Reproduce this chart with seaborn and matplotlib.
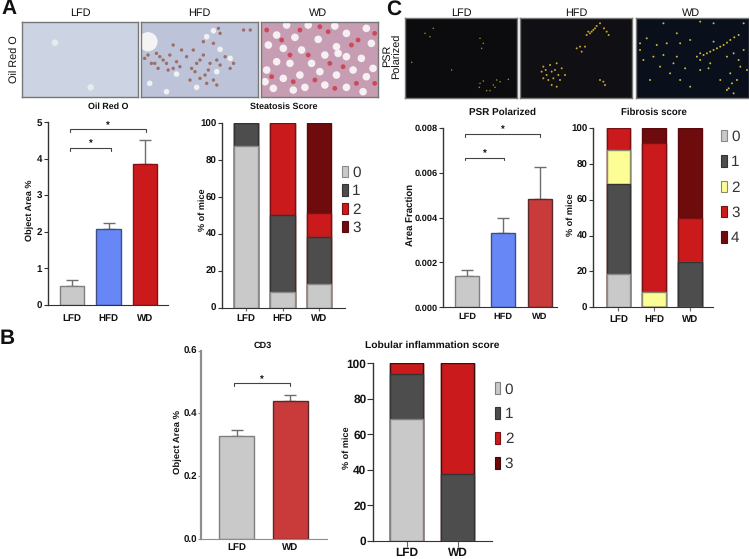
import pandas as pd
import matplotlib
matplotlib.use("Agg")
import matplotlib.pyplot as plt
from matplotlib.patches import Patch
import seaborn as sns

# colours
GREY = "#c9c9c9"
DARK = "#4d4d4d"
YELLOW = "#fdfd96"
RED = "#cb1a1c"
MAROON = "#6e0b0d"
BLUE = "#6687f5"
BRICK = "#c93a3a"

# bar charts
three_groups = ["LFD", "HFD", "WD"]
two_groups = ["LFD", "WD"]
oil_mean = [0.52, 2.09, 3.85]
oil_top = [0.68, 2.24, 4.52]
psr_mean = [0.00138, 0.0033, 0.00485]
psr_top = [0.00166, 0.00398, 0.00628]
cd3_mean = [0.327, 0.44]
cd3_top = [0.347, 0.46]

# stacked scores, one list per score, in group order
steatosis = {"0": [87.5, 8.3, 12.5], "1": [12.5, 41.7, 25.5],
             "2": [0, 50, 13], "3": [0, 0, 49]}
fibrosis = {"0": [18.75, 0, 0], "1": [50, 0, 25], "2": [18.75, 8.3, 0],
            "3": [12.5, 83.4, 25], "4": [0, 8.3, 50]}
lobular = {"0": [68.75, 0], "1": [25, 37.5], "2": [6.25, 62.5], "3": [0, 0]}

# micrograph details (x, y in zoomed crop pixels)
lfd_holes = [(165, 128), (272, 262)]
hfd_holes = [(660, 148), (640, 92), (530, 222), (590, 262), (500, 275),
             (620, 110), (690, 175), (650, 215), (450, 250)]
hfd_brown = [(470, 160), (490, 180), (510, 165), (530, 185), (455, 190), (475, 205),
             (505, 210), (560, 170), (590, 190), (610, 165), (625, 210), (600, 235),
             (640, 240), (660, 195), (690, 205), (545, 150), (660, 100), (730, 90),
             (520, 135), (585, 215), (650, 255), (435, 175), (750, 90), (570, 240),
             (480, 170), (500, 190), (520, 205), (465, 190), (445, 165), (540, 200),
             (575, 205), (600, 180), (615, 225), (630, 190), (650, 180), (675, 170),
             (700, 190), (640, 130), (610, 125), (655, 85), (580, 150), (620, 250)]
wd_holes = [(860, 75), (925, 75), (1005, 78), (830, 105), (885, 112), (955, 118),
            (1040, 100), (1100, 85), (805, 135), (850, 145), (905, 150), (1010, 140),
            (1085, 175), (830, 185), (870, 190), (935, 190), (975, 165), (1040, 170),
            (1115, 130), (800, 210), (850, 235), (900, 225), (960, 215), (1010, 225),
            (1060, 210), (1100, 230), (820, 265), (880, 270), (915, 262), (975, 255),
            (1040, 262), (1090, 275), (1120, 205), (1015, 160), (795, 245)]
wd_red = [(800, 90), (845, 120), (900, 90), (985, 95), (1075, 120), (1125, 100),
          (870, 165), (990, 190), (1055, 135), (815, 230), (945, 240), (1005, 265),
          (1070, 250), (880, 245), (1125, 250), (960, 80), (1030, 200), (925, 165)]
psr_lfd = [(135, 100), (160, 85), (150, 110), (300, 115), (310, 130), (305, 145),
           (95, 187), (215, 210), (300, 250), (320, 272), (345, 262), (360, 245),
           (385, 238), (340, 255), (350, 240), (330, 272), (298, 262), (310, 243)]
psr_hfd = [(680, 95), (660, 70), (630, 100), (620, 105), (640, 90), (590, 145),
           (605, 155), (615, 140), (490, 200), (510, 195), (530, 190), (545, 205),
           (500, 225), (520, 235), (540, 240), (485, 215), (515, 255), (530, 260),
           (660, 240), (670, 245), (675, 255), (650, 78), (625, 95), (600, 140),
           (505, 240), (525, 210), (490, 235), (420, 122), (555, 225), (645, 85),
           (635, 95), (672, 85), (686, 105), (515, 215), (535, 225), (497, 210)]
psr_wd = [(950, 170), (970, 165), (990, 155), (1010, 145), (1030, 135), (1050, 120),
          (1075, 105), (960, 180), (990, 190), (985, 205), (960, 210), (780, 130),
          (800, 115), (780, 150), (850, 70), (890, 100), (900, 130), (930, 120),
          (1060, 160), (1075, 180), (1090, 150), (1040, 170), (880, 190), (870, 220),
          (900, 240), (840, 200), (820, 170), (790, 180), (1040, 270), (1060, 280),
          (1020, 240), (1050, 220), (1000, 70), (960, 65), (1090, 70), (1070, 240),
          (930, 260), (810, 240), (1100, 210), (1000, 125), (860, 130), (960, 160),
          (980, 160), (1000, 150), (1020, 140), (1040, 128), (1062, 112), (1080, 200),
          (1045, 265), (1055, 250), (890, 170), (915, 205), (850, 165), (830, 135)]

sns.set_style("ticks")
plt.rcParams["font.family"] = ["Liberation Sans", "DejaVu Sans"]
plt.rcParams["text.hinting"] = "no_hinting"
W, H = 749, 559
fig = plt.figure(figsize=(W / 100, H / 100), dpi=100, facecolor="white")


def place(left, right, top, bottom):
    return fig.add_axes([left / W, 1 - bottom / H, (right - left) / W, (bottom - top) / H])


def label(x, y, s, size=6.6, weight="bold", rotation=0):
    fig.text(x / W, 1 - y / H, s, fontsize=size, fontweight=weight, rotation=rotation,
             ha="center", va="center", color="#111111", linespacing=1.0)


def finish_axis(ax, lim, ticks, tick_fmt, length, size, spine="#333333", spine_w=1.0, xtick=0.0, xpad=3.5):
    ax.set_ylim(*lim)
    ax.set_yticks(ticks)
    ax.set_yticklabels([tick_fmt.format(t) for t in ticks], fontsize=size, fontweight="bold", color="#111111")
    ax.set_xlabel("")
    ax.set_ylabel("")
    ax.spines["top"].set_visible(False)
    ax.spines["right"].set_visible(False)
    ax.spines["left"].set_color(spine)
    ax.spines["left"].set_linewidth(spine_w)
    ax.spines["bottom"].set_color(spine)
    ax.tick_params(axis="y", length=length, width=0.8, color=spine, pad=1)
    ax.tick_params(axis="x", length=xtick, width=0.8, color="#666666", pad=xpad)
    for t in ax.get_xticklabels():
        t.set_fontsize(size)
        t.set_fontweight("bold")
        t.set_color("#111111")


def mean_bars(ax, groups, means, tops, colors, edges, width):
    df = pd.DataFrame({"group": groups, "value": means})
    sns.barplot(data=df, x="group", y="value", hue="group", order=groups, hue_order=groups,
                palette=colors, saturation=1, width=width, legend=False, ax=ax, zorder=2)
    for patch, e in zip(ax.patches, edges):
        patch.set_edgecolor(e)
        patch.set_linewidth(1.0)
    for i, (m, t) in enumerate(zip(means, tops)):
        ax.errorbar([i], [m], yerr=[[0], [t - m]], fmt="none", ecolor="#6e6e6e",
                    elinewidth=1.0, capsize=4.2, capthick=1.0, zorder=1)


def bracket(ax, a, b, y, drop, star_gap):
    ax.plot([a, a, b, b], [y - drop, y, y, y - drop], color="#444444", lw=0.8, clip_on=False, zorder=3)
    ax.text((a + b) / 2, y + star_gap, "*", ha="center", va="center", fontsize=7,
            fontweight="bold", color="#111111", clip_on=False)


def stacked(ax, groups, scores, colors, edges, width):
    names = list(scores)
    total = [0] * len(groups)
    levels = []
    for name in names:
        total = [a + b for a, b in zip(total, scores[name])]
        levels.append(total)
    # tallest first, every lower score is painted over it
    for level, c, e in reversed(list(zip(levels, colors, edges))):
        df = pd.DataFrame({"group": groups, "value": level})
        sns.barplot(data=df, x="group", y="value", order=groups, color=c, saturation=1,
                    width=width, edgecolor=e, linewidth=1.0, ax=ax)


def score_legend(ax, names, colors, edges, x, y, pitch):
    handles = [Patch(facecolor=c, edgecolor=e, linewidth=0.8) for c, e in zip(colors, edges)]
    leg = ax.legend(handles, names, loc="upper left", bbox_to_anchor=(x / W, 1 - y / H),
                    bbox_transform=fig.transFigure, frameon=False, fontsize=11,
                    handlelength=0.36, handleheight=0.78, handletextpad=0.3,
                    borderpad=0, borderaxespad=0, labelspacing=(pitch - 13.2) / 15.3)
    for t in leg.get_texts():
        t.set_color("#333333")


def photo(left, right, top, bottom, x0, x1, y0, y1, bg):
    ax = place(left, right, top, bottom)
    ax.set_facecolor(bg)
    ax.set_xlim(x0, x1)
    ax.set_ylim(y1, y0)
    ax.set_xticks([])
    ax.set_yticks([])
    for s in ax.spines.values():
        s.set_color("#777777")
        s.set_linewidth(1.0)
    return ax


def spots(ax, pts, size, color, alpha=1.0):
    df = pd.DataFrame(pts, columns=["x", "y"])
    sns.scatterplot(data=df, x="x", y="y", s=size, color=color, edgecolor="none", alpha=alpha, ax=ax, legend=False)
    ax.set_xlabel("")
    ax.set_ylabel("")


# Oil Red O micrographs
ax = photo(22.3, 137.7, 21.7, 96.7, 67, 413, 65, 290, "#ccd3e3")
spots(ax, lfd_holes, 22, "#eef0f2", 0.8)
ax = photo(141, 258, 21.7, 96.7, 424, 773, 65, 290, "#bdc4da")
spots(ax, hfd_holes, 16, "#f2f0f0")
spots(ax, [(445, 125)], 190, "#f5f4f4")
spots(ax, hfd_brown, 6, "#9a5f50", 0.85)
ax = photo(260.7, 378, 21.7, 96.7, 782, 1135, 65, 290, "#c79db4")
spots(ax, wd_holes, 30, "#f6f0f2")
spots(ax, wd_red, 12, "#cf3f4c", 0.9)

# PSR micrographs
ax = photo(405, 517, 18.3, 98, 75, 411, 55, 294, "#0c0c0e")
spots(ax, psr_lfd, 1.2, "#a08c28")
ax = photo(520, 632, 18.3, 98, 420, 756, 55, 294, "#101014")
spots(ax, psr_hfd, 2, "#c8a830")
ax = photo(635.7, 749, 18.3, 98, 767, 1106, 55, 294, "#0a0f1c")
spots(ax, psr_wd, 2, "#d0b838")

# Panel A bars
ax = place(47.7, 168, 122, 305)
mean_bars(ax, three_groups, oil_mean, oil_top, [GREY, BLUE, RED], ["#7f7f7f", "#3f4f85", "#8a1015"], 0.66)
ax.set_xlim(-0.666, 2.63)
finish_axis(ax, (0, 5), [0, 1, 2, 3, 4, 5], "{:d}", 3, 7, xpad=6)
bracket(ax, -0.05, 2.02, 4.8, 0.08, 0.1)
bracket(ax, -0.05, 1.06, 4.3, 0.08, 0.1)

# Steatosis
ax = place(222, 345, 123, 307.5)
stacked(ax, three_groups, steatosis, [GREY, DARK, RED, MAROON], ["#8a8a8a", "#333333", "#7a1012", "#5a0a0c"], 0.66)
ax.set_xlim(-0.65, 2.7)
finish_axis(ax, (0, 100), [0, 20, 40, 60, 80, 100], "{:d}", 3, 7, xtick=2, xpad=2.5)
score_legend(ax, list(steatosis), [GREY, DARK, RED, MAROON], ["#8a8a8a", "#333333", "#7a1012", "#5a0a0c"], 342, 166, 17.3)

# PSR bars
ax = place(443.3, 557, 128, 307.3)
mean_bars(ax, three_groups, psr_mean, psr_top, [GREY, BLUE, BRICK], ["#7f7f7f", "#3f4f85", "#5a2a2a"], 0.66)
ax.set_xlim(-0.655, 2.48)
finish_axis(ax, (0, 0.008), [0, 0.002, 0.004, 0.006, 0.008], "{:.3f}", 3, 6.7)
bracket(ax, -0.05, 2.0, 0.00772, 0.00012, 0.0002)
bracket(ax, -0.05, 1.02, 0.00667, 0.00012, 0.0002)

# Fibrosis
ax = place(593, 713, 128, 307.3)
stacked(ax, three_groups, fibrosis, [GREY, DARK, YELLOW, RED, MAROON],
        ["#8a8a8a", "#333333", "#8a8a6a", "#7a1012", "#5a0a0c"], 0.66)
ax.set_xlim(-0.714, 2.647)
finish_axis(ax, (0, 100), [0, 20, 40, 60, 80, 100], "{:d}", 3, 7, xtick=3, xpad=2.5)
score_legend(ax, list(fibrosis), [GREY, DARK, YELLOW, RED, MAROON],
             ["#8a8a8a", "#333333", "#8a8a6a", "#7a1012", "#5a0a0c"], 721, 130, 24.3)

# CD3
ax = place(201, 326.7, 350.7, 539)
mean_bars(ax, two_groups, cd3_mean, cd3_top, [GREY, BRICK], ["#7f7f7f", "#5a2a2a"], 0.66)
ax.set_xlim(-0.663, 1.678)
finish_axis(ax, (0, 0.6), [0, 0.2, 0.4, 0.6], "{:.1f}", 2, 7, spine="#8e8e8e", spine_w=1.6, xpad=2.5)
bracket(ax, -0.05, 1.0, 0.497, 0.008, 0.012)

# Lobular inflammation
ax = place(373.3, 492.3, 363.3, 540.7)
stacked(ax, two_groups, lobular, [GREY, DARK, RED, MAROON], ["#7f7f7f", "#333333", "#3a1010", "#5a0a0c"], 0.65)
ax.set_xlim(-0.657, 1.676)
finish_axis(ax, (0, 100), [0, 20, 40, 60, 80, 100], "{:d}", 4, 8.6, xtick=4, xpad=1)
score_legend(ax, list(lobular), [GREY, DARK, RED, MAROON], ["#7f7f7f", "#333333", "#7a1012", "#3a0a0c"], 494.7, 382.3, 24)

# titles and axis names
label(108, 107, "Oil Red O", 6.4)
label(284, 107, "Steatosis Score", 6.5)
label(503, 112, "PSR Polarized", 7.1)
label(654, 112, "Fibrosis score", 6.9)
label(263, 346, "CD3", 6.6)
label(432, 345, "Lobular inflammation score", 7.4)
label(30, 210.7, "Object Area %", 6.6, rotation=90)
label(202.5, 210, "% of mice", 6.6, rotation=90)
label(410, 215, "Area Fraction", 6.9, rotation=90)
label(571, 215, "% of mice", 6.6, rotation=90)
label(178, 441.7, "Object Area %", 6.8, rotation=90)
label(347, 448, "% of mice", 6.6, rotation=90)

# micrograph headers
for x, s in zip([80, 199, 318], three_groups):
    label(x, 13, s, 7.8, "normal")
for x, s in zip([461.7, 576, 691], three_groups):
    label(x, 13, s, 7.8, "normal")
label(15, 59, "Oil Red O", 7.8, "normal", rotation=90)
label(392.5, 56, "PSR\nPolarized", 7.8, "normal", rotation=90)

# panel letters
label(9, 9, "A", 15)
label(7.5, 338.5, "B", 15)
label(393.5, 9, "C", 15)

fig.savefig("out.png", dpi=100)
